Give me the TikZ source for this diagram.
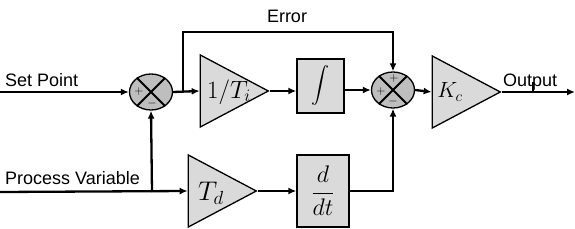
\RequirePackage{fix-cm}
\documentclass[tikz,border=0pt]{standalone}
\usepackage{fontspec}
\setmainfont{Liberation Sans}
\usetikzlibrary{arrows.meta,positioning,calc,shapes.geometric}
\definecolor{BlockGray}{HTML}{DADADA}
\definecolor{SumGray}{HTML}{BEBEBE}

\begin{document}
\begin{tikzpicture}[x=1pt,y=-1pt,>={Latex[length=8pt,width=7pt]},
    wire/.style={line width=2.3pt},
    gain/.style={draw,line width=1.3pt,fill=BlockGray,isosceles triangle,
      isosceles triangle stretches,inner sep=0pt,minimum width=72pt,minimum height=68pt,
      anchor=apex},
    block/.style={draw,line width=1.3pt,fill=BlockGray,inner sep=0pt},
    junction/.style={draw,line width=1.3pt,fill=SumGray,ellipse,inner sep=0pt,
      minimum width=43pt,minimum height=36pt},
    sign/.style={font=\fontsize{12}{12}\selectfont,inner sep=0pt},
    lbl/.style={font=\fontsize{18}{18}\selectfont,inner sep=0pt}]
  \useasboundingbox (0,0) rectangle (575,229);

  % Zweige und Summierstellen
  \node[junction] (s1) at (151,92) {};
  \node[junction] (s2) at (393,90) {};
  \foreach \s in {s1,s2}{
    \draw[line width=1.8pt] (\s.45) -- (\s.225);
    \draw[line width=1.8pt] (\s.135) -- (\s.-45);
  }
  \node[sign] at (139,92) {$+$};
  \node[sign] at (152,104) {$-$};
  \node[sign] at (394,79) {$+$};
  \node[sign] at (381,92) {$+$};
  \node[sign] at (393,102) {$-$};

  % Bloecke
  \node[gain] (gi) at (270,91) {};
  \node[font=\fontsize{25}{25}\selectfont] at (229,92) {$1/T_i$};
  \node[block,minimum width=47pt,minimum height=54pt] (int) at (320.5,86)
    {\scalebox{1.8}{$\displaystyle\int$}};
  \node[gain] (kc) at (502,92) {};
  \node[font=\fontsize{22}{22}\selectfont] at (450,92) {$K_c$};
  \node[gain] (td) at (258,191) {};
  \node[font=\fontsize{27}{27}\selectfont] at (211,193) {$T_d$};
  \node[block,minimum width=52pt,minimum height=72pt] (dd) at (323,191)
    {\fontsize{24}{24}\selectfont$\displaystyle\frac{d}{dt}$};

  % Ein- und Ausgaenge
  \coordinate (sp) at (0,92);
  \coordinate (pv) at (0,192);
  \coordinate (br) at (183,92);
  \coordinate (pvb) at (152,192);
  \coordinate (out) at (575,92);
  \coordinate (tick) at (533,82);

  \draw[wire,->] (sp) -- (s1.west);
  \draw[wire,->] (s1.east) -- (gi.west);
  \draw[wire,->] (br) |- (393,32) -- (s2.north);
  \draw[wire,->] (gi.apex) -- (gi.apex -| int.west);
  \draw[wire,->] (int.east |- s2) -- (s2.west);
  \draw[wire,->] (s2.east) -- (kc.west);
  \draw[wire,->] (kc.apex) -- (out);
  \draw[line width=1.5pt] (tick) -- (tick |- out);
  \draw[wire,->] (pv) -- (td.west);
  \draw[wire,->] (pvb) -- (s1.south);
  \draw[wire,->] (td.apex) -- (td.apex -| dd.west);
  \draw[wire,->] (dd.east) -| (s2.south);

  \node[lbl,anchor=base west] at (5,87) {Set Point};
  \node[lbl,anchor=base west] at (5,185) {Process Variable};
  \node[lbl,anchor=base] at (287,23) {Error};
  \node[lbl,anchor=base west] at (503,87) {Output};
\end{tikzpicture}
\end{document}
